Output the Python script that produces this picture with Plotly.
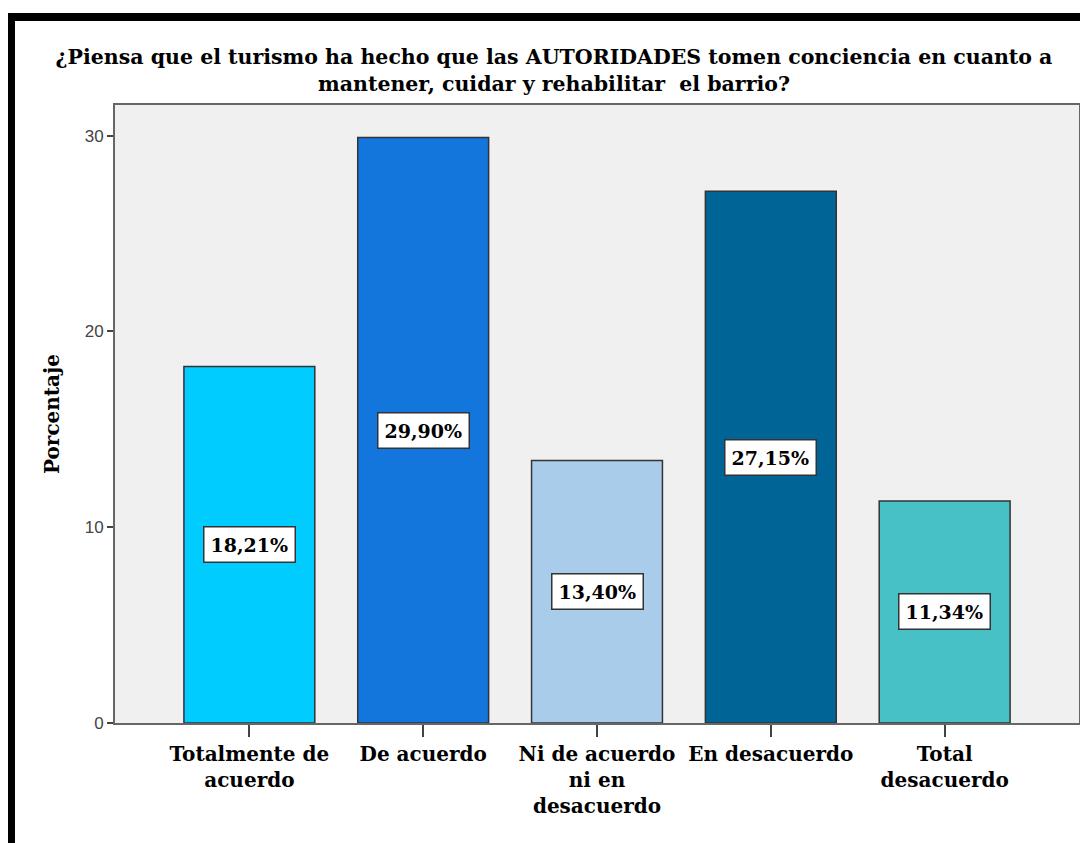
import plotly.graph_objects as go

categories = ["Totalmente de<br>acuerdo", "De acuerdo", "Ni de acuerdo<br>ni en<br>desacuerdo",
              "En desacuerdo", "Total<br>desacuerdo"]
values = [18.21, 29.90, 13.40, 27.15, 11.34]
value_labels = ["18,21%", "29,90%", "13,40%", "27,15%", "11,34%"]
colors = ["#00CCFF", "#1276DC", "#A9CCEB", "#006496", "#48C1C6"]
y_ticks = [0, 10, 20, 30]

# page offset (body margin 8px)
OFF = 8
W, H = 1088 - OFF, 843 - OFF
L, R, T, B = 115 - OFF, 1079 - OFF, 105 - OFF, 723 - OFF

fig = go.Figure()
fig.add_trace(go.Bar(
    x=list(range(len(categories))), y=values, width=0.753,
    marker=dict(color=colors, line=dict(color="#333333", width=1.5)),
    hoverinfo="skip", showlegend=False,
))

for i, (v, lab) in enumerate(zip(values, value_labels)):
    fig.add_annotation(x=i, y=v / 2, text=lab, showarrow=False,
                       font=dict(family="DejaVu Serif", size=19, color="black", weight="bold"),
                       bgcolor="white", bordercolor="#333333", borderwidth=1.5, borderpad=6)

def px_x(p):
    return (p - OFF - L) / (R - L)

def px_y(p):
    return (B - (p - OFF)) / (B - T)

# black frame (left and top)
fig.add_shape(type="rect", xref="paper", yref="paper", x0=px_x(8), x1=px_x(15),
              y0=px_y(860), y1=px_y(13), fillcolor="black", line=dict(width=0), layer="above")
fig.add_shape(type="rect", xref="paper", yref="paper", x0=px_x(8), x1=px_x(1100),
              y0=px_y(21), y1=px_y(13), fillcolor="black", line=dict(width=0), layer="above")

fig.update_layout(
    width=W, height=H,
    margin=dict(l=L, r=W - R, t=T, b=H - B, autoexpand=False),
    paper_bgcolor="white", plot_bgcolor="#F0F0F0",
    title=dict(text="¿Piensa que el turismo ha hecho que las AUTORIDADES tomen conciencia en cuanto a<br>mantener, cuidar y rehabilitar  el barrio?",
               x=(554 - OFF) / W, xanchor="center", y=1 - (64 - OFF) / H, yanchor="top",
               font=dict(family="DejaVu Serif", size=20.5, color="black", weight="bold")),
    xaxis=dict(range=[-0.773, 4.773], tickmode="array", tickvals=list(range(len(categories))),
               ticktext=categories, ticks="outside", ticklen=12, tickwidth=2, tickcolor="#444444",
               showline=True, linecolor="#666666", linewidth=2, mirror=True, showgrid=False,
               zeroline=False, fixedrange=True,
               tickfont=dict(family="DejaVu Serif", size=20, color="black", weight="bold")),
    yaxis=dict(range=[0, 31.56], tickmode="array", tickvals=y_ticks,
               ticks="outside", ticklen=6, tickwidth=2, tickcolor="#444444",
               showline=True, linecolor="#666666", linewidth=2, mirror=True, showgrid=False,
               zeroline=False, fixedrange=True,
               tickfont=dict(family="Liberation Sans", size=17, color="#444444"),
               title=dict(text="Porcentaje", standoff=20,
                          font=dict(family="DejaVu Serif", size=20, color="black", weight="bold"))),
)

fig.write_html("out.html")
